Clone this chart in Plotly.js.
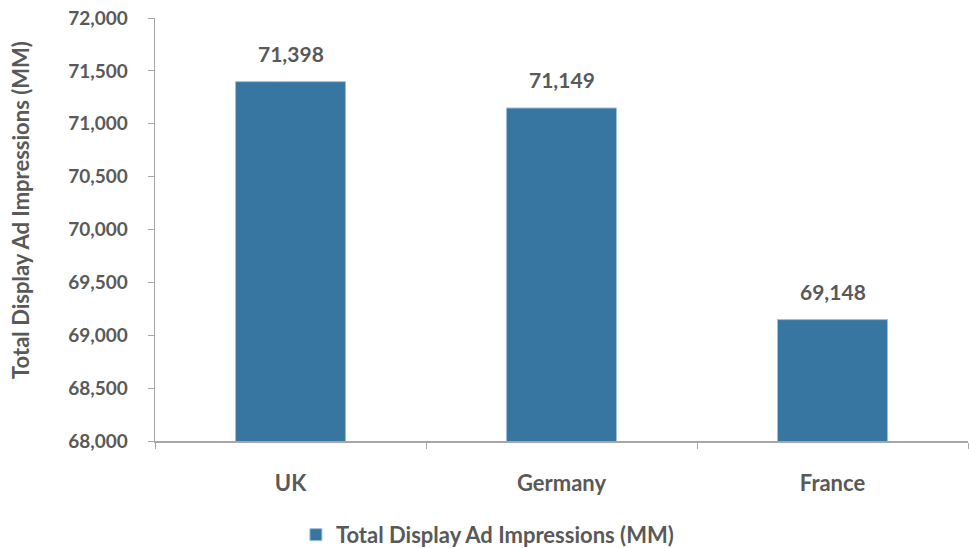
<!DOCTYPE html>
<html><head><meta charset="utf-8">
<script src="https://cdn.plot.ly/plotly-3.0.1.min.js"></script>
<style>body{margin:0;background:#fff}#c{width:969px;height:548px}</style>
</head><body><div id="c"></div>
<script>
const categories = ["UK", "Germany", "France"];
const impressions = [71398, 71149, 69148];
const seriesName = "Total Display Ad Impressions (MM)";
const yTickVals = [68000, 68500, 69000, 69500, 70000, 70500, 71000, 71500, 72000];

const gray = "#595959";
const fam = "Lato, 'Open Sans', sans-serif";
const f = (size) => ({family: fam, size: size, color: gray, weight: "bold"});

const trace = {
  type: "bar",
  x: categories,
  y: impressions,
  name: seriesName,
  marker: {color: "#3876a2", line: {color: "#9cc0dc", width: 1}},
  showlegend: true
};

const labelAnnotations = categories.map((c, i) => ({
  x: c, y: impressions[i], xref: "x", yref: "y",
  text: impressions[i].toLocaleString("en-US"),
  showarrow: false, yanchor: "bottom", yshift: 14,
  font: f(21)
}));

const layout = {
  width: 969, height: 548,
  margin: {l: 155, r: 1, t: 18, b: 107},
  paper_bgcolor: "#fff", plot_bgcolor: "#fff",
  font: f(20),
  bargap: 0.594,
  xaxis: {
    type: "category",
    showline: true, linecolor: "#a6a6a6", linewidth: 1.5,
    ticks: "outside", tickson: "boundaries", ticklen: 6, tickcolor: "#a6a6a6",
    tickfont: f(22), showgrid: false, zeroline: false,
    ticklabelstandoff: 22, automargin: false
  },
  yaxis: {
    range: [68000, 72000],
    tickvals: yTickVals,
    tickformat: ",d",
    showline: true, linecolor: "#a6a6a6", linewidth: 1.5,
    ticks: "outside", ticklen: 6, tickcolor: "#a6a6a6",
    tickfont: f(19), showgrid: false, zeroline: false,
    ticklabelstandoff: 16, automargin: false
  },
  annotations: labelAnnotations.concat([{
    text: seriesName, textangle: -90,
    xref: "paper", yref: "paper",
    x: (20 - 155) / 813, y: (441 - 210) / 423,
    xanchor: "center", yanchor: "middle",
    showarrow: false, font: f(22)
  }]),
  legend: {
    orientation: "h", xref: "container", yref: "container",
    x: 0.503, xanchor: "center",
    y: 0.024, yanchor: "middle",
    font: f(22), itemwidth: 30
  }
};

Plotly.newPlot("c", [trace], layout, {displayModeBar: false, staticPlot: true});
</script></body></html>
